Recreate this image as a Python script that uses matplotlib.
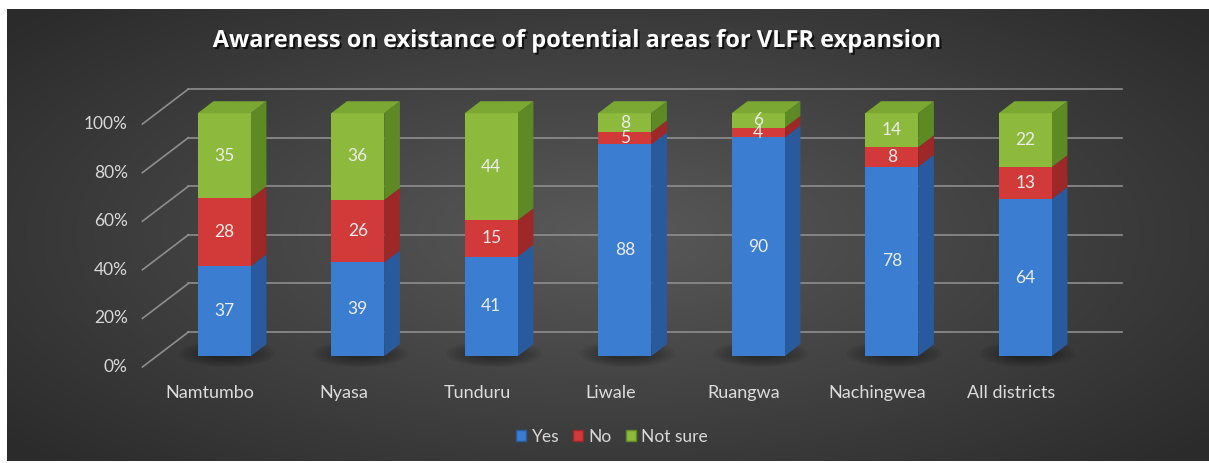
import numpy as np
import matplotlib
matplotlib.use('Agg')
import matplotlib.pyplot as plt
from matplotlib.patches import Polygon, Patch, Ellipse
import matplotlib.patheffects as pe

plt.rcParams['font.family'] = ['Lato', 'DejaVu Sans']

# data
districts = ['Namtumbo', 'Nyasa', 'Tunduru', 'Liwale', 'Ruangwa', 'Nachingwea', 'All districts']
yes = [37, 39, 41, 88, 90, 78, 64]
no = [28, 26, 15, 5, 4, 8, 13]
not_sure = [35, 36, 44, 8, 6, 14, 22]
series_names = ['Yes', 'No', 'Not sure']
ticks = [0, 20, 40, 60, 80, 100]

# front / side / top colours per series
front_c = ['#3b7dd1', '#d23a3a', '#8dba3c']
side_c = ['#2a5a9e', '#9e2828', '#5e8a25']
top_c = ['#4f8ede', '#dd5252', '#7aa832']

W, H = 1209, 463
fig = plt.figure(figsize=(W / 100, H / 100), dpi=100)
fig.patch.set_facecolor('white')

# radial grey background
bg = fig.add_axes([7 / W, 2 / H, 1202 / W, 452 / H])
gx, gy = np.meshgrid(np.linspace(-1, 1, 600), np.linspace(-1, 1, 240))
r = np.sqrt((gx * 1.0) ** 2 + (gy * 0.9) ** 2)
shade = 0.35 - 0.18 * np.clip(r, 0, 1.3) / 1.3
bg.imshow(np.dstack([shade] * 3), aspect='auto', extent=[0, 1, 0, 1])
bg.set_axis_off()

ax = fig.add_axes([0, 0, 1, 1])
ax.patch.set_alpha(0)
ax.set_axis_off()
ax.set_xlim(-210 / 133.5, (W - 210) / 133.5)
ax.set_ylim((367 - H) / 2.43, 367 / 2.43)

DX, DY = 0.3446, 14.4      # floor depth (front -> back wall)
t0, t1 = 0.31, 0.65        # bar depth range
bw = 0.397
grid_c = '#8e8e8e'

# back wall gridlines + floor diagonals
x_left = -0.506
x_right = 6.83
for v in ticks:
    ax.plot([x_left, x_left + DX], [v, v + DY], color=grid_c, lw=1.2, zorder=1)
    ax.plot([x_left + DX, x_right], [v + DY, v + DY], color=grid_c, lw=1.2, zorder=1)
    ax.text(x_left - 0.11, v, f'{v}%', ha='right', va='center', fontsize=12.5,
            color='#d8d8d8')

data = np.array([yes, no, not_sure], dtype=float)
pct = data / data.sum(axis=0) * 100

ox, oy = (t1 - t0) * DX, (t1 - t0) * DY
for i in range(len(districts)):
    xc = i + t0 * DX
    x0, x1 = xc - bw / 2, xc + bw / 2
    base = t0 * DY
    # soft shadow on the floor, built from stacked faint ellipses
    for k in range(8):
        f = 1 - k * 0.09
        ax.add_patch(Ellipse((xc + ox / 2 - 0.04, base + oy / 2 - 1.5),
                             (bw + ox + 0.2) * f, (oy + 6) * f,
                             facecolor='black', alpha=0.05, lw=0, zorder=2))
    lo = 0.0
    for s in range(3):
        h = pct[s, i]
        hi = lo + h
        ax.bar(xc, h, bottom=base + lo, width=bw, color=front_c[s], lw=0, zorder=4)
        ax.add_patch(Polygon([(x1, base + lo), (x1 + ox, base + lo + oy),
                              (x1 + ox, base + hi + oy), (x1, base + hi)],
                             closed=True, facecolor=side_c[s], lw=0, zorder=3))
        ax.text(xc, base + lo + h / 2, f'{int(data[s, i])}', ha='center', va='center',
                fontsize=12.5, color='#ececec', zorder=6)
        lo = hi
    ax.add_patch(Polygon([(x0, base + lo), (x1, base + lo), (x1 + ox, base + lo + oy),
                          (x0 + ox, base + lo + oy)],
                         closed=True, facecolor=top_c[2], lw=0, zorder=5))
    ax.text(i, (367 - 393) / 2.43, districts[i], ha='center', va='center',
            fontsize=13, color='#dcdcdc')

# title
fig.text(577 / W, 1 - 47 / H, 'Awareness on existance of potential areas for VLFR expansion',
         ha='center', va='baseline', fontsize=17, fontweight='bold', color='white',
         family=['Open Sans', 'DejaVu Sans'],
         path_effects=[pe.SimplePatchShadow(offset=(1.5, -1.5), shadow_rgbFace='black', alpha=0.7),
                       pe.Normal()])

handles = [Patch(facecolor=front_c[k], edgecolor=side_c[k]) for k in range(3)]
fig.legend(handles, series_names, loc='center', bbox_to_anchor=(612 / W, 1 - 437 / H), ncol=3,
           frameon=False, handlelength=0.6, handleheight=0.6, handletextpad=0.3,
           columnspacing=0.8, fontsize=12.5, labelcolor='#d8d8d8')

fig.savefig('out.png', dpi=100, facecolor=fig.get_facecolor())
